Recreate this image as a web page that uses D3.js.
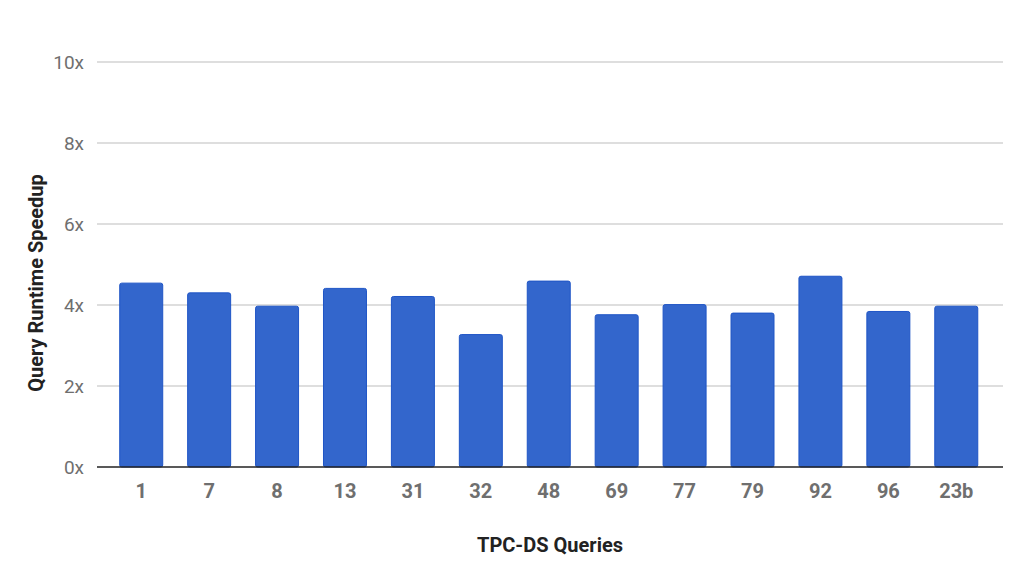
<!DOCTYPE html>
<html>
<head>
<meta charset="utf-8">
<script src="https://cdn.jsdelivr.net/npm/d3@7"></script>
<style>
  body { margin: 0; background: #fff; }
  svg { display: block; font-family: Roboto, "Noto Sans", sans-serif; }
</style>
</head>
<body>
<svg id="chart"></svg>
<script>
const queries = ["1", "7", "8", "13", "31", "32", "48", "69", "77", "79", "92", "96", "23b"];
const speedups = [4.54, 4.30, 3.97, 4.41, 4.21, 3.27, 4.59, 3.76, 4.01, 3.80, 4.71, 3.84, 3.97];
const yTicks = [0, 2, 4, 6, 8, 10];

const width = 1024;
const height = 585;

const svg = d3.select("#chart")
  .attr("width", width)
  .attr("height", height);

const x = d3.scaleBand()
  .domain(queries)
  .range([107.5, 990])
  .paddingInner(0.367)
  .paddingOuter(0.18);

const y = d3.scaleLinear()
  .domain([0, 10])
  .range([467, 62]);

// gridlines
svg.append("g")
  .selectAll("line")
  .data(yTicks.filter(d => d > 0))
  .join("line")
  .attr("x1", 97)
  .attr("x2", 1003)
  .attr("y1", d => y(d))
  .attr("y2", d => y(d))
  .attr("stroke", "#bdbdbd")
  .attr("stroke-width", 1);

// y tick labels
svg.append("g")
  .selectAll("text")
  .data(yTicks)
  .join("text")
  .attr("x", 84)
  .attr("y", d => y(d))
  .attr("dy", "0.35em")
  .attr("text-anchor", "end")
  .attr("fill", "#6f6f6f")
  .style("font-size", "19px")
  .text(d => d + "x");

// bars
svg.append("g")
  .selectAll("rect")
  .data(queries)
  .join("rect")
  .attr("x", d => x(d))
  .attr("y", (d, i) => y(speedups[i]))
  .attr("width", x.bandwidth())
  .attr("height", (d, i) => y(0) - y(speedups[i]))
  .attr("rx", 2)
  .attr("fill", "#3366cc")
  .attr("stroke", "#1f55c6")
  .attr("stroke-width", 1);

// baseline
svg.append("line")
  .attr("x1", 97)
  .attr("x2", 1003)
  .attr("y1", y(0))
  .attr("y2", y(0))
  .attr("stroke", "#222")
  .attr("stroke-width", 1.5);

// x tick labels
svg.append("g")
  .selectAll("text")
  .data(queries)
  .join("text")
  .attr("x", d => x(d) + x.bandwidth() / 2)
  .attr("y", 491)
  .attr("dy", "0.35em")
  .attr("text-anchor", "middle")
  .attr("fill", "#6f6f6f")
  .style("font-size", "20px")
  .style("font-weight", "bold")
  .text(d => d);

// axis titles
svg.append("text")
  .attr("x", (97 + 1003) / 2)
  .attr("y", 545)
  .attr("dy", "0.35em")
  .attr("text-anchor", "middle")
  .attr("fill", "#222")
  .style("font-size", "20px")
  .style("font-weight", "bold")
  .text("TPC-DS Queries");

svg.append("text")
  .attr("transform", "translate(36,283) rotate(-90)")
  .attr("dy", "0.35em")
  .attr("text-anchor", "middle")
  .attr("fill", "#222")
  .style("font-size", "20px")
  .style("font-weight", "bold")
  .text("Query Runtime Speedup");
</script>
</body>
</html>
